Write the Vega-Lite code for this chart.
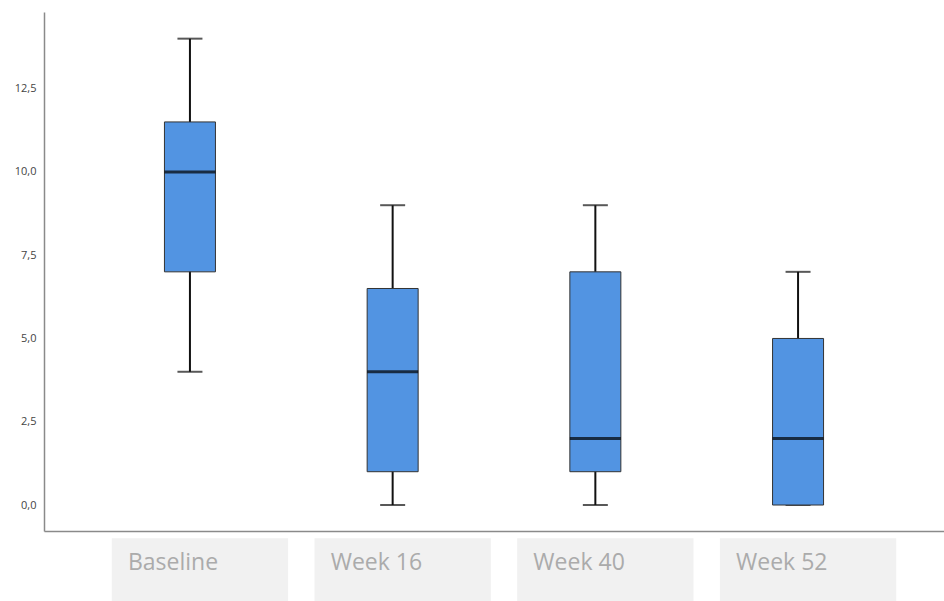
{
  "$schema": "https://vega.github.io/schema/vega-lite/v6.json",
  "width": 900,
  "height": 519,
  "autosize": "none",
  "padding": {"left": 44, "top": 12, "right": 0, "bottom": 70},
  "background": "white",
  "config": {"view": {"stroke": null}},
  "data": {
    "values": [
      {"visit": "Baseline", "min": 4, "q1": 7, "median": 10, "q3": 11.5, "max": 14},
      {"visit": "Week 16", "min": 0, "q1": 1, "median": 4, "q3": 6.5, "max": 9},
      {"visit": "Week 40", "min": 0, "q1": 1, "median": 2, "q3": 7, "max": 9},
      {"visit": "Week 52", "min": 0, "q1": 0, "median": 2, "q3": 5, "max": 7}
    ]
  },
  "encoding": {
    "x": {
      "field": "visit",
      "type": "nominal",
      "sort": null,
      "scale": {"paddingInner": 0, "paddingOuter": 0.22},
      "axis": {
        "title": null,
        "zindex": 1,
        "ticks": false,
        "labelAngle": 0,
        "labelAlign": "left",
        "labelOffset": -62,
        "labelBaseline": "middle",
        "labelPadding": 31,
        "labelFont": "Open Sans",
        "labelFontSize": 23,
        "labelColor": "#ababab",
        "domainColor": "#8a8a8a",
        "domainWidth": 1.5
      }
    }
  },
  "layer": [
    {
      "mark": {"type": "bar", "color": "#f1f1f1", "width": {"band": 0.87}, "xOffset": 10, "clip": false},
      "encoding": {
        "y": {"datum": -1.0, "type": "quantitative"},
        "y2": {"datum": -2.9}
      }
    },
    {
      "mark": {"type": "rule", "color": "#111111", "strokeWidth": 2},
      "encoding": {
        "y": {
          "field": "min",
          "type": "quantitative",
          "scale": {"domain": [-0.78, 14.8], "nice": false, "zero": false},
          "axis": {
            "title": null,
            "values": [0, 2.5, 5, 7.5, 10, 12.5],
            "labelExpr": "replace(format(datum.value, '.1f'), '.', ',')",
            "ticks": false,
            "labelPadding": 8,
            "labelFont": "Open Sans",
            "labelFontSize": 11,
            "labelColor": "#444444",
            "domainColor": "#8a8a8a",
            "domainWidth": 1.5,
            "gridColor": "#cfcfcf",
            "gridWidth": 1.5
          }
        },
        "y2": {"field": "max"}
      }
    },
    {
      "mark": {"type": "tick", "color": "#111111", "thickness": 2, "size": 25},
      "encoding": {"y": {"field": "min", "type": "quantitative"}}
    },
    {
      "mark": {"type": "tick", "color": "#111111", "thickness": 2, "size": 25},
      "encoding": {"y": {"field": "max", "type": "quantitative"}}
    },
    {
      "mark": {"type": "bar", "width": 51, "fill": "#5294e2", "stroke": "#333333", "strokeWidth": 1},
      "encoding": {
        "y": {"field": "q1", "type": "quantitative"},
        "y2": {"field": "q3"}
      }
    },
    {
      "mark": {"type": "tick", "color": "#000000", "thickness": 3, "size": 51},
      "encoding": {"y": {"field": "median", "type": "quantitative"}}
    }
  ]
}
